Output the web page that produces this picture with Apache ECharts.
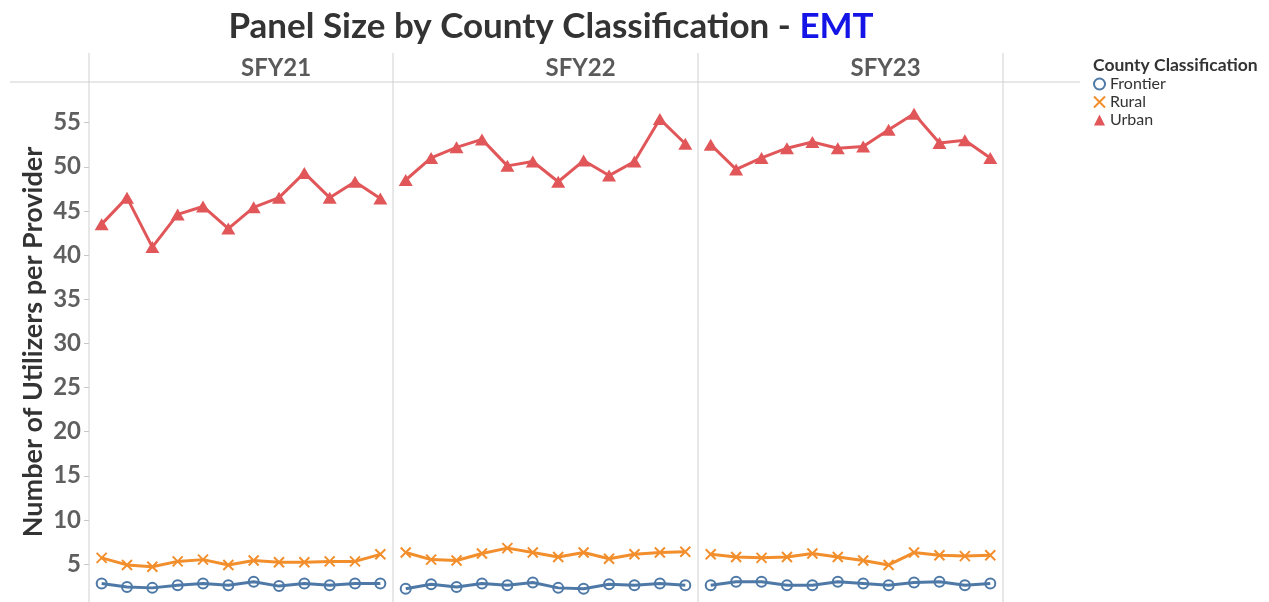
<!DOCTYPE html>
<html>
<head>
<meta charset="utf-8">
<script src="https://cdn.jsdelivr.net/npm/echarts@6/dist/echarts.min.js"></script>
<style>
html,body{margin:0;padding:0;background:#fff;}
#chart{width:1269px;height:602px;}
</style>
</head>
<body>
<div id="chart"></div>
<script>
// ---- data ----
const months = ["Jul","Aug","Sep","Oct","Nov","Dec","Jan","Feb","Mar","Apr","May","Jun"];
const panels = ["SFY21","SFY22","SFY23"];
const seriesNames = ["Frontier","Rural","Urban"];
const yTicks = [5,10,15,20,25,30,35,40,45,50,55];

const frontier21 = [2.8, 2.4, 2.3, 2.6, 2.8, 2.6, 3.0, 2.5, 2.8, 2.6, 2.8, 2.8];
const rural21    = [5.7, 4.9, 4.7, 5.3, 5.5, 4.9, 5.4, 5.2, 5.2, 5.3, 5.3, 6.1];
const urban21    = [43.5, 46.5, 40.9, 44.6, 45.5, 43.0, 45.4, 46.5, 49.3, 46.5, 48.3, 46.4];

const frontier22 = [2.2, 2.7, 2.4, 2.8, 2.6, 2.9, 2.3, 2.2, 2.7, 2.6, 2.8, 2.6];
const rural22    = [6.3, 5.5, 5.4, 6.2, 6.8, 6.3, 5.8, 6.3, 5.6, 6.1, 6.3, 6.4];
const urban22    = [48.5, 51.0, 52.2, 53.1, 50.1, 50.6, 48.3, 50.7, 49.0, 50.6, 55.4, 52.6];

const frontier23 = [2.6, 3.0, 3.0, 2.6, 2.6, 3.0, 2.8, 2.6, 2.9, 3.0, 2.6, 2.8];
const rural23    = [6.1, 5.8, 5.7, 5.8, 6.2, 5.8, 5.4, 4.9, 6.3, 6.0, 5.9, 6.0];
const urban23    = [52.5, 49.7, 51.0, 52.1, 52.8, 52.1, 52.3, 54.2, 56.0, 52.7, 53.0, 51.0];

const panelData = [
  [frontier21, rural21, urban21],
  [frontier22, rural22, urban22],
  [frontier23, rural23, urban23]
];

// ---- styling ----
const FONT = 'Lato';
const colors = {Frontier:'#4E79A7', Rural:'#F28E2B', Urban:'#E15759'};
const xPath = 'path://M0,0L10,10M10,0L0,10';
const symbolStyle = {
  Frontier: {symbol:'circle', symbolSize:10, itemStyle:{color:'rgba(0,0,0,0)', borderColor:colors.Frontier, borderWidth:2}},
  Rural:    {symbol:xPath, symbolSize:10, itemStyle:{color:'rgba(0,0,0,0)', borderColor:colors.Rural, borderWidth:2}},
  Urban:    {symbol:'triangle', symbolSize:[14,12], itemStyle:{color:colors.Urban}}
};

const gridLeft = [89, 393, 698];
const gridWidth = [304, 305, 305];
const gridTop = 82;
const yMin = 0.7, yMax = 59.6;

const grids = [], xAxes = [], yAxes = [], series = [], graphics = [];
panels.forEach((p, i) => {
  grids.push({left: gridLeft[i], width: gridWidth[i], top: gridTop, bottom: 0, containLabel: false});
  xAxes.push({type:'category', gridIndex:i, data: months, boundaryGap:true,
    axisLine:{show:false}, axisTick:{show:false}, axisLabel:{show:false}, splitLine:{show:false}});
  yAxes.push({type:'value', gridIndex:i, min:yMin, max:yMax,
    axisLine:{show:false}, splitLine:{show:false},
    axisTick:{show: i===0, length:5, lineStyle:{color:'#c8c8c8'}, customValues: yTicks},
    axisLabel:{show: i===0, customValues: yTicks, fontFamily:FONT, fontWeight:'bold', fontSize:24, color:'#5f5f5f', margin:8},
    name: i===0 ? 'Number of Utilizers per Provider' : '',
    nameLocation:'middle', nameGap:42, nameRotate:90,
    nameTextStyle:{fontFamily:FONT, fontWeight:'bold', fontSize:27, color:'#333'}
  });
  seriesNames.forEach((s, k) => {
    const st = symbolStyle[s];
    series.push({
      name: s, type:'line', xAxisIndex:i, yAxisIndex:i,
      data: panelData[i][k],
      symbol: st.symbol, symbolSize: st.symbolSize, itemStyle: st.itemStyle,
      showAllSymbol:true,
      lineStyle:{color: colors[s], width:3},
      emphasis:{disabled:true}, animation:false, z: 2 + k
    });
  });
  graphics.push({type:'text', left: gridLeft[i] + gridWidth[i]/2, top: 56,
    style:{text: p, fontFamily:FONT, fontWeight:'bold', fontSize:24, fill:'#5a5a5a', textAlign:'center'}});
});

// frame lines (panel separators and header rule)
[89, 393, 698, 1003].forEach(x => {
  graphics.push({type:'line', shape:{x1:x, y1:53, x2:x, y2:602}, style:{stroke:'#d0d0d0', lineWidth:1}, z:-1});
});
graphics.push({type:'line', shape:{x1:10, y1:82, x2:1080, y2:82}, style:{stroke:'#d0d0d0', lineWidth:1}, z:-1});
graphics.push({type:'text', left:1093, top:56,
  style:{text:'County Classification', fontFamily:FONT, fontWeight:'bold', fontSize:17.5, fill:'#333'}});

const option = {
  backgroundColor:'#fff',
  animation:false,
  title:{
    text:'{a|Panel Size by County Classification - }{b|EMT}',
    left: 546, top: 4, textAlign:'center',
    textStyle:{rich:{
      a:{fontFamily:FONT, fontWeight:'bold', fontSize:35, color:'#333'},
      b:{fontFamily:FONT, fontWeight:'bold', fontSize:35, color:'#1414e6'}
    }}
  },
  legend:{
    orient:'vertical', left:1088, top:71, itemGap:2, itemWidth:11, itemHeight:11,
    textStyle:{fontFamily:FONT, fontSize:16, color:'#333'},
    data:[
      {name:'Frontier', icon:'circle', itemStyle:{color:'rgba(0,0,0,0)', borderColor:colors.Frontier, borderWidth:2}},
      {name:'Rural', icon:xPath, itemStyle:{color:'rgba(0,0,0,0)', borderColor:colors.Rural, borderWidth:2}},
      {name:'Urban', icon:'triangle', itemStyle:{color:colors.Urban}}
    ]
  },
  grid: grids, xAxis: xAxes, yAxis: yAxes, series: series, graphic: graphics
};

const chart = echarts.init(document.getElementById('chart'), null, {renderer:'canvas'});
chart.setOption(option);
</script>
</body>
</html>
